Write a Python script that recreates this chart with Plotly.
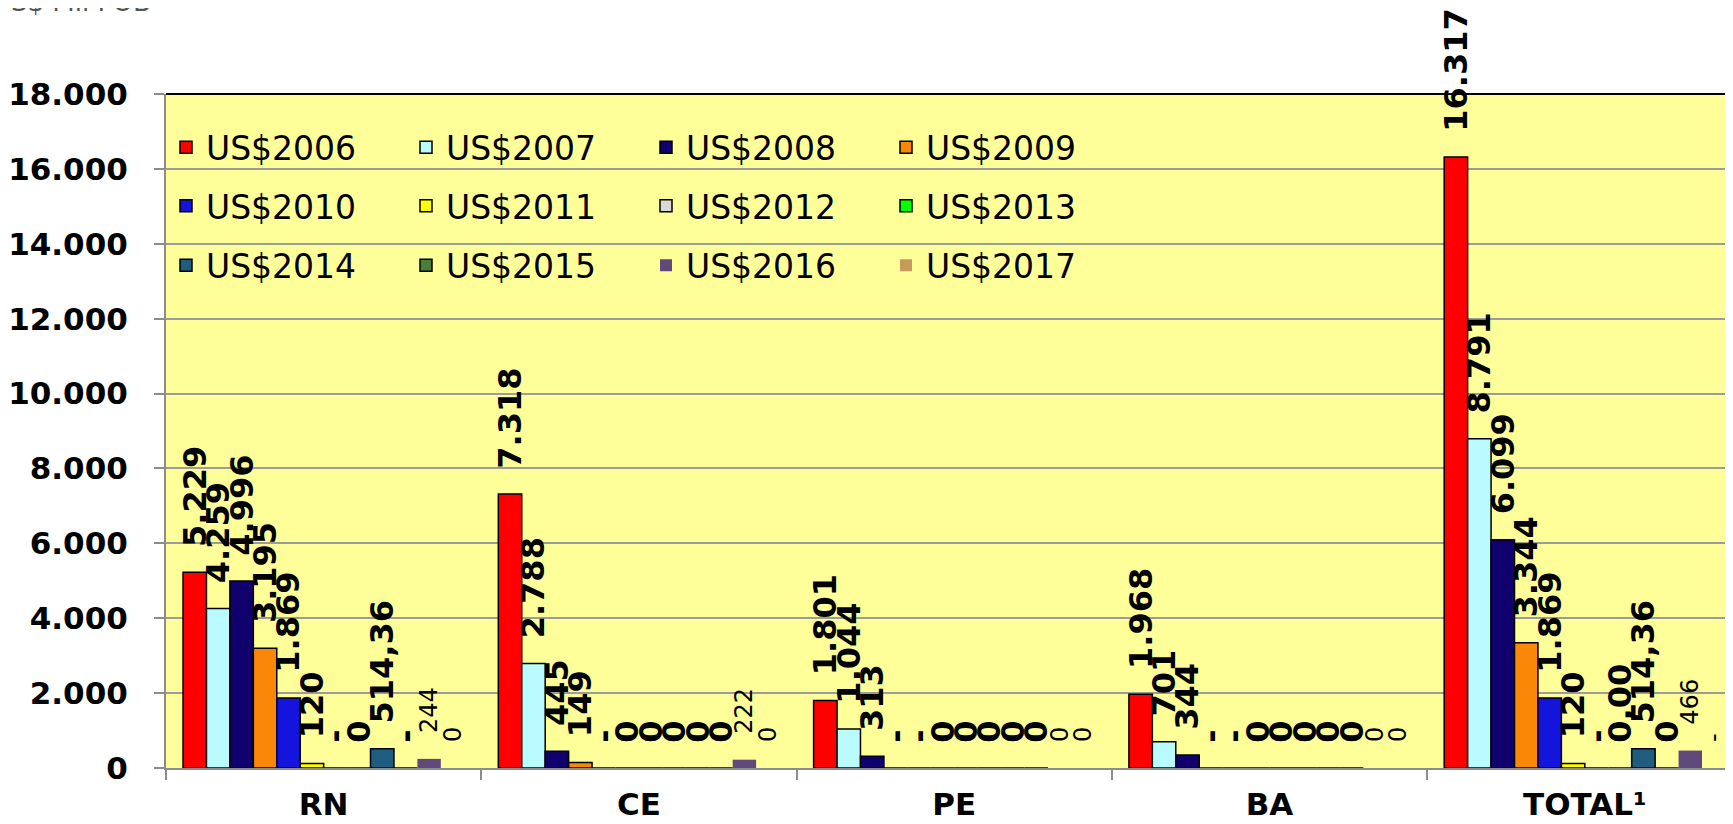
import plotly.graph_objects as go

# ---------------- data ----------------
categories = ["RN", "CE", "PE", "BA", "TOTAL¹"]
series_names = ["US$2006", "US$2007", "US$2008", "US$2009", "US$2010", "US$2011",
                "US$2012", "US$2013", "US$2014", "US$2015", "US$2016", "US$2017"]

v2006 = [5229, 7318, 1801, 1968, 16317]
v2007 = [4259, 2788, 1044, 701, 8791]
v2008 = [4996, 445, 313, 344, 6099]
v2009 = [3195, 149, 0, 0, 3344]
v2010 = [1869, 0, 0, 0, 1869]
v2011 = [120, 0, 0, 0, 120]
v2012 = [0, 0, 0, 0, 0]
v2013 = [0, 0, 0, 0, 0]
v2014 = [514.36, 0, 0, 0, 514.36]
v2015 = [0, 0, 0, 0, 0]
v2016 = [244, 222, 0, 0, 466]
v2017 = [0, 0, 0, 0, 0]

l2006 = ["5.229", "7.318", "1.801", "1.968", "16.317"]
l2007 = ["4.259", "2.788", "1.044", "701", "8.791"]
l2008 = ["4.996", "445", "313", "344", "6.099"]
l2009 = ["3.195", "149", "-", "-", "3.344"]
l2010 = ["1.869", "-", "-", "-", "1.869"]
l2011 = ["120", "0", "0", "0", "120"]
l2012 = ["-", "0", "0", "0", "-"]
l2013 = ["0", "0", "0", "0", "0,00"]
l2014 = ["514,36", "0", "0", "0", "514,36"]
l2015 = ["-", "0", "0", "0", "0"]
l2016 = ["244", "222", "0", "0", "466"]
l2017 = ["0", "0", "0", "0", "-"]

colors = ["#FF0000", "#B9FBFF", "#10006E", "#FA8708", "#1414DC", "#FFFF00",
          "#D9D9D9", "#00FF00", "#1F5C80", "#4B7D3A", "#604A7B", "#C49A5E"]

values = [v2006, v2007, v2008, v2009, v2010, v2011, v2012, v2013, v2014, v2015, v2016, v2017]
labels = [l2006, l2007, l2008, l2009, l2010, l2011, l2012, l2013, l2014, l2015, l2016, l2017]

FONT = "DejaVu Sans"
NB = "\u00a0"

fig = go.Figure()
for i, (name, vals, labs, col) in enumerate(zip(series_names, values, labels, colors)):
    regular = i >= 10
    if regular:
        txt = [NB * 3 + s for s in labs]
        tf = dict(family=FONT, size=24, color="black", weight="normal")
        line = dict(width=0, color=col)
    else:
        txt = [NB * 2 + s for s in labs]
        tf = dict(family=FONT, size=32, color="black", weight="bold")
        line = dict(width=1.5, color="black")
    fig.add_trace(go.Bar(
        name=name, x=categories, y=vals, text=txt,
        textposition="outside", textangle=-90, textfont=tf,
        constraintext="none", cliponaxis=False,
        marker=dict(color=col, line=line),
        legend=["legend", "legend2", "legend3"][i // 4],
        hoverinfo="skip",
    ))

legend_common = dict(orientation="h", xanchor="left", yanchor="middle",
                     x=0.0, bgcolor="rgba(0,0,0,0)",
                     font=dict(family=FONT, size=33, color="black"),
                     entrywidth=195, entrywidthmode="pixels",
                     itemclick=False, itemdoubleclick=False)

# page body has an 8px margin: figure is offset by 8px right and down
fig.update_layout(
    width=1725, height=816,
    margin=dict(l=158, r=0, t=86, b=56, autoexpand=False),
    paper_bgcolor="white", plot_bgcolor="#FFFF99",
    barmode="group", bargap=0.108, bargroupgap=0,
    separators=",.",
    showlegend=True,
    legend=dict(legend_common, y=0.921),
    legend2=dict(legend_common, y=0.834),
    legend3=dict(legend_common, y=0.746),
    xaxis=dict(type="category", range=[-0.5, 4.47], tickson="boundaries",
               automargin=False,
               ticks="outside", ticklen=10, tickwidth=2, tickcolor="#8c8c8c",
               showline=True, linecolor="#8c8c8c", linewidth=2,
               showgrid=False, ticklabelstandoff=8,
               tickfont=dict(family=FONT, size=31, color="black", weight="bold")),
    yaxis=dict(range=[0, 18000], dtick=2000, tickformat=",d",
               automargin=False,
               ticks="outside", ticklen=10, tickwidth=2, tickcolor="#8c8c8c",
               showline=True, linecolor="#8c8c8c", linewidth=2,
               showgrid=True, gridcolor="#9c9c9c", gridwidth=2,
               zeroline=False, ticklabelstandoff=20,
               tickfont=dict(family=FONT, size=31, color="black", weight="bold")),
    shapes=[dict(type="line", xref="paper", yref="paper", x0=0, x1=1, y0=1, y1=1,
                 line=dict(color="black", width=2), layer="above")],
    annotations=[dict(text="US$ Mil FOB", xref="paper", yref="paper",
                      x=-0.112, y=1.112, xanchor="left", yanchor="bottom",
                      showarrow=False,
                      font=dict(family=FONT, size=26, color="#555555"))],
)

fig.write_html("out.html")
